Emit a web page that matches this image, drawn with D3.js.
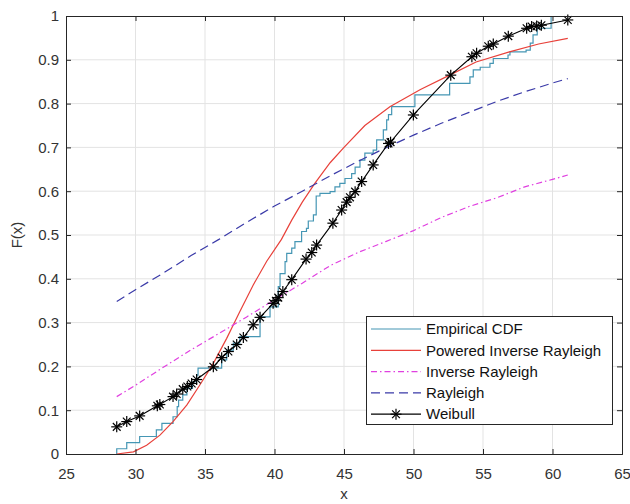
<!DOCTYPE html>
<html>
<head>
  <meta charset="utf-8" />
  <script src="https://d3js.org/d3.v7.min.js"></script>
  <style>
    body { margin: 0; background: #fff; }
    svg { font-family: "Liberation Sans", Arial, Helvetica, sans-serif; }
    .tick text { fill: #333; font-size: 15px; }
    .legend text { font-size: 15px; fill: #111; }
  </style>
</head>
<body>
  <div id="chart"></div>
  <script>
    const width = 630, height = 504;
    const margin = { top: 16, right: 8, bottom: 50, left: 66 };

    const xTicks = [25, 30, 35, 40, 45, 50, 55, 60, 65];
    const yTicks = [0, 0.1, 0.2, 0.3, 0.4, 0.5, 0.6, 0.7, 0.8, 0.9, 1];

    // empirical CDF: jump positions and level after the jump
    const ecdfX = [28.65, 28.65, 29.37, 30.3, 31.5, 31.9, 32.7, 33.0, 33.1, 33.4, 33.7, 34.1, 34.4, 34.5,
      36.2, 36.56, 37.04, 37.5, 38.96, 39.68, 40.27, 40.4, 40.76, 40.88, 41.24, 41.47, 41.95, 42.3,
      42.43, 42.8, 43.0, 43.27, 44.0, 44.35, 44.7, 45.07, 45.55, 45.8, 46.15, 46.5, 47.1, 47.35,
      47.83, 48.07, 48.2, 48.43, 50.1, 52.6, 54.06, 54.3, 54.8, 55.5, 55.74, 56.8, 56.94, 58.1,
      58.4, 58.6, 58.9, 59.9, 59.9];
    const ecdfF = [0, 0.012, 0.026, 0.04, 0.055, 0.07, 0.085, 0.108, 0.123, 0.135, 0.15, 0.165, 0.18, 0.196,
      0.215, 0.237, 0.253, 0.268, 0.313, 0.336, 0.382, 0.412, 0.439, 0.458, 0.47, 0.485, 0.508, 0.515,
      0.532, 0.546, 0.589, 0.595, 0.599, 0.61, 0.618, 0.629, 0.64, 0.655, 0.671, 0.687, 0.694, 0.717,
      0.74, 0.763, 0.775, 0.793, 0.82, 0.846, 0.861, 0.877, 0.883, 0.892, 0.903, 0.911, 0.918, 0.922,
      0.938, 0.957, 0.972, 0.987, 1.0];

    // Powered Inverse Rayleigh
    const pirX = [28.65, 29.85, 30.8, 31.76, 32.7, 33.7, 34.64, 35.6, 36.56, 37.5, 38.47, 39.44, 40.5,
      41.24, 42.0, 42.9, 44.0, 45.0, 46.5, 48.3, 50.5, 52.6, 54.5, 56.9, 59.0, 61.1];
    const pirF = [0, 0.005, 0.02, 0.043, 0.074, 0.112, 0.158, 0.207, 0.264, 0.325, 0.386, 0.44, 0.49,
      0.534, 0.575, 0.618, 0.665, 0.7, 0.75, 0.793, 0.832, 0.865, 0.895, 0.918, 0.936, 0.949];

    // Inverse Rayleigh
    const irX = [28.65, 30, 32, 34, 36, 38, 40, 42, 44, 46, 48, 50, 52, 54, 56, 58, 60, 61.1];
    const irF = [0.131, 0.157, 0.198, 0.238, 0.275, 0.313, 0.352, 0.39, 0.43, 0.46, 0.485, 0.51,
      0.54, 0.565, 0.585, 0.61, 0.627, 0.637];

    // Rayleigh
    const rayX = [28.65, 30, 32, 34, 36, 38, 40, 42, 44, 46, 48, 50, 52, 54, 56, 58, 60, 61.1];
    const rayF = [0.348, 0.375, 0.413, 0.453, 0.49, 0.529, 0.566, 0.6, 0.635, 0.668, 0.699, 0.728,
      0.755, 0.78, 0.805, 0.827, 0.847, 0.857];

    // Weibull (markers at the sample points)
    const wblX = [28.65, 29.37, 30.3, 31.57, 31.75, 32.7, 32.96, 33.4, 33.73, 34.04, 34.4, 35.6, 36.2,
      36.68, 37.28, 37.76, 38.47, 38.96, 39.9, 40.1, 40.27, 40.6, 41.24, 42.27, 42.68, 43.03, 44.2,
      44.83, 45.19, 45.43, 45.8, 46.27, 47.1, 48.2, 48.35, 49.99, 52.68, 54.2, 54.54, 55.38, 55.74,
      56.82, 58.14, 58.5, 58.86, 59.2, 61.1];
    const wblF = [0.062, 0.074, 0.087, 0.110, 0.113, 0.131, 0.137, 0.148, 0.154, 0.161, 0.170, 0.199, 0.220,
      0.234, 0.250, 0.266, 0.295, 0.312, 0.344, 0.350, 0.357, 0.371, 0.398, 0.445, 0.460, 0.477, 0.527,
      0.557, 0.575, 0.586, 0.599, 0.622, 0.660, 0.709, 0.712, 0.774, 0.865, 0.907, 0.915, 0.931, 0.936,
      0.954, 0.972, 0.976, 0.977, 0.979, 0.991];

    const seriesNames = ["Empirical CDF", "Powered Inverse Rayleigh", "Inverse Rayleigh", "Rayleigh", "Weibull"];
    const colors = ["#4596b4", "#e8413a", "#e040e0", "#3a3aa8", "#000000"];
    const dashes = [null, null, "6,3,1.5,3", "9,5", null];

    const x = d3.scaleLinear().domain([25, 65]).range([margin.left, width - margin.right]);
    const y = d3.scaleLinear().domain([0, 1]).range([height - margin.bottom, margin.top]);

    const svg = d3.select("#chart").append("svg")
      .attr("width", width)
      .attr("height", height);

    // grid
    const grid = svg.append("g");
    grid.selectAll(".gx").data(xTicks.slice(1, -1)).enter().append("line")
      .attr("x1", d => x(d)).attr("x2", d => x(d))
      .attr("y1", y(0)).attr("y2", y(1))
      .style("stroke", "#e3e3e3").style("stroke-width", 1);
    grid.selectAll(".gy").data(yTicks.slice(1, -1)).enter().append("line")
      .attr("x1", x(25)).attr("x2", x(65))
      .attr("y1", d => y(d)).attr("y2", d => y(d))
      .style("stroke", "#e3e3e3").style("stroke-width", 1);

    const zip = (xs, ys) => xs.map((v, i) => [v, ys[i]]);

    const line = d3.line().x(d => x(d[0])).y(d => y(d[1]));
    const stepLine = d3.line().x(d => x(d[0])).y(d => y(d[1])).curve(d3.curveStepAfter);

    const series = [zip(ecdfX, ecdfF), zip(pirX, pirF), zip(irX, irF), zip(rayX, rayF), zip(wblX, wblF)];

    series.forEach((pts, i) => {
      svg.append("path")
        .attr("d", i === 0 ? stepLine(pts) : line(pts))
        .style("fill", "none")
        .style("stroke", colors[i])
        .style("stroke-width", i === 4 ? 1.1 : 1.2)
        .style("stroke-dasharray", dashes[i]);
    });

    function star(g, cx, cy, r) {
      const s = r * Math.SQRT1_2;
      const segs = [[-r, 0, r, 0], [0, -r, 0, r], [-s, -s, s, s], [-s, s, s, -s]];
      segs.forEach(p => {
        g.append("line")
          .attr("x1", cx + p[0]).attr("y1", cy + p[1])
          .attr("x2", cx + p[2]).attr("y2", cy + p[3])
          .style("stroke", "#000").style("stroke-width", 1.2);
      });
    }

    const markers = svg.append("g");
    series[4].forEach(d => star(markers, x(d[0]), y(d[1]), 5.5));

    // axes
    const axisColor = "#262626";
    svg.append("g")
      .attr("transform", `translate(0,${y(0)})`)
      .call(d3.axisBottom(x).tickValues(xTicks).tickSize(-5).tickPadding(14).tickFormat(d => String(d)));
    svg.append("g")
      .attr("transform", `translate(${x(25)},0)`)
      .call(d3.axisLeft(y).tickValues(yTicks).tickSize(-5).tickPadding(7).tickFormat(d => String(d)));
    svg.append("g")
      .attr("transform", `translate(0,${y(1)})`)
      .call(d3.axisTop(x).tickValues(xTicks).tickSize(-5).tickFormat(""));
    svg.append("g")
      .attr("transform", `translate(${x(65)},0)`)
      .call(d3.axisRight(y).tickValues(yTicks).tickSize(-5).tickFormat(""));
    svg.selectAll(".domain, .tick line").style("stroke", axisColor);
    svg.selectAll(".tick text").style("font-family", "'Liberation Sans', Arial, sans-serif");

    svg.append("text")
      .attr("x", x(45))
      .attr("y", 499)
      .attr("text-anchor", "middle")
      .style("font-size", "15px")
      .style("fill", "#333")
      .text("x");

    svg.append("text")
      .attr("transform", `translate(22,${y(0.5)}) rotate(-90)`)
      .attr("text-anchor", "middle")
      .style("font-size", "15px")
      .style("fill", "#333")
      .text("F(x)");

    // legend
    const lg = svg.append("g").attr("class", "legend");
    lg.append("rect")
      .attr("x", 366.5).attr("y", 316.5)
      .attr("width", 246).attr("height", 108)
      .style("fill", "#fff").style("stroke", axisColor).style("stroke-width", 1);
    seriesNames.forEach((name, i) => {
      const ly = 329 + i * 21.3;
      lg.append("line")
        .attr("x1", 371).attr("x2", 421)
        .attr("y1", ly).attr("y2", ly)
        .style("stroke", colors[i])
        .style("stroke-width", 1.2)
        .style("stroke-dasharray", dashes[i]);
      if (i === 4) star(lg, 396, ly, 5.5);
      lg.append("text")
        .attr("x", 426).attr("y", ly)
        .attr("dy", "0.35em")
        .text(name);
    });
  </script>
</body>
</html>
